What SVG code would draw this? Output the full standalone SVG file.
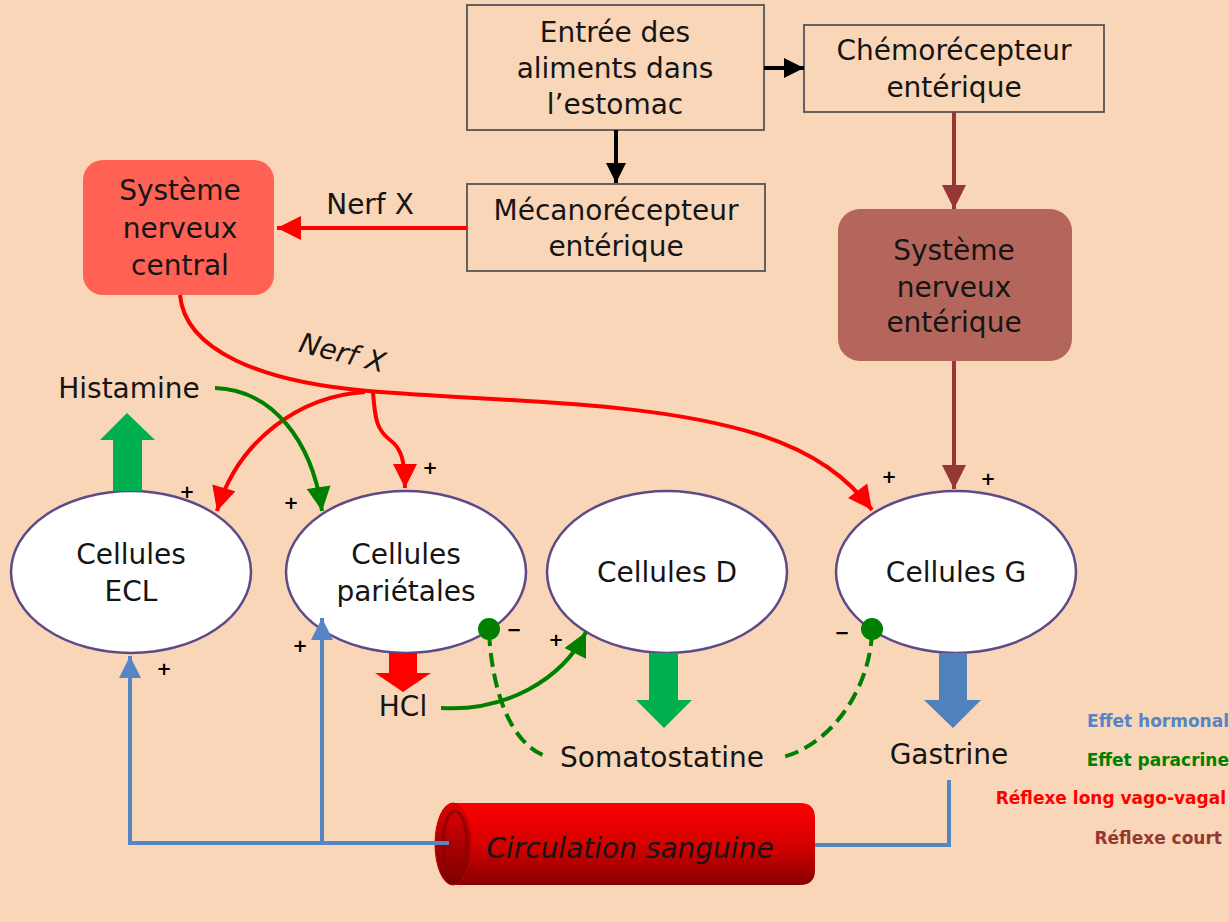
<svg xmlns="http://www.w3.org/2000/svg" width="1229" height="922" viewBox="0 0 1229 922">
<defs>
<style>
.t{font-family:"DejaVu Sans","Liberation Sans",sans-serif;font-size:28px;fill:#151515;text-anchor:middle}
.box{fill:none;stroke:#555;stroke-width:1.8}
.cell{fill:#fff;stroke:#5E4A86;stroke-width:2.5}
.pm{font-family:"DejaVu Sans",sans-serif;font-size:18px;font-weight:bold;fill:#000;text-anchor:middle}
.lg{font-family:"DejaVu Sans",sans-serif;font-size:17px;font-weight:bold;text-anchor:end}
.red{fill:none;stroke:#FF0000;stroke-width:4}
.grn{fill:none;stroke:#008000;stroke-width:4}
.blu{fill:none;stroke:#5585C5;stroke-width:4}
</style>
<marker id="mR" viewBox="0 0 10 10" refX="10" refY="5" markerWidth="25" markerHeight="24" markerUnits="userSpaceOnUse" orient="auto"><path d="M0,0L10,5L0,10z" fill="#FF0000"/></marker>
<marker id="mG" viewBox="0 0 10 10" refX="10" refY="5" markerWidth="25" markerHeight="24" markerUnits="userSpaceOnUse" orient="auto"><path d="M0,0L10,5L0,10z" fill="#008000"/></marker>
<marker id="mB" viewBox="0 0 10 10" refX="10" refY="5" markerWidth="22" markerHeight="24" markerUnits="userSpaceOnUse" orient="auto"><path d="M0,0L10,5L0,10z" fill="#5585C5"/></marker>
<marker id="mK" viewBox="0 0 10 10" refX="10" refY="5" markerWidth="20" markerHeight="22" markerUnits="userSpaceOnUse" orient="auto"><path d="M0,0L10,5L0,10z" fill="#000"/></marker>
<marker id="mM" viewBox="0 0 10 10" refX="10" refY="5" markerWidth="26" markerHeight="24" markerUnits="userSpaceOnUse" orient="auto"><path d="M0,0L10,5L0,10z" fill="#953735"/></marker>
<linearGradient id="cyl" x1="0" y1="0" x2="0" y2="1">
<stop offset="0" stop-color="#FF0000"/><stop offset="0.55" stop-color="#D00000"/><stop offset="1" stop-color="#850000"/>
</linearGradient>
<linearGradient id="cylEnd" x1="0" y1="0" x2="0" y2="1">
<stop offset="0" stop-color="#E00000"/><stop offset="1" stop-color="#7A0000"/>
</linearGradient>
</defs>
<rect width="1229" height="922" fill="#FAD6B8"/>

<g id="entree">
<rect class="box" x="467" y="5" width="297" height="125"/>
<text class="t" x="615" y="42">Entrée des</text>
<text class="t" x="615" y="78">aliments dans</text>
<text class="t" x="615" y="114">l’estomac</text>
</g>
<g id="chemo">
<rect class="box" x="804" y="25" width="300" height="87"/>
<text class="t" x="954" y="60">Chémorécepteur</text>
<text class="t" x="954" y="97">entérique</text>
</g>
<g id="mecano">
<rect class="box" x="467" y="184" width="298" height="87"/>
<text class="t" x="616" y="220">Mécanorécepteur</text>
<text class="t" x="616" y="256">entérique</text>
</g>
<g id="snc">
<rect x="83" y="160" width="191" height="135" rx="20" fill="#FF6155"/>
<text class="t" x="180" y="200">Système</text>
<text class="t" x="180" y="238">nerveux</text>
<text class="t" x="180" y="275">central</text>
</g>
<g id="sne">
<rect x="838" y="209" width="234" height="152" rx="22" fill="#B4665C"/>
<text class="t" x="954" y="260">Système</text>
<text class="t" x="954" y="297">nerveux</text>
<text class="t" x="954" y="332">entérique</text>
</g>

<g id="ecl">
<ellipse class="cell" cx="131" cy="572" rx="120" ry="81"/>
<text class="t" x="131" y="564">Cellules</text>
<text class="t" x="131" y="601">ECL</text>
</g>
<g id="parietales">
<ellipse class="cell" cx="406" cy="572" rx="120" ry="81"/>
<text class="t" x="406" y="564">Cellules</text>
<text class="t" x="406" y="601">pariétales</text>
</g>
<g id="cellD">
<ellipse class="cell" cx="667" cy="572" rx="120" ry="81"/>
<text class="t" x="667" y="582">Cellules D</text>
</g>
<g id="cellG">
<ellipse class="cell" cx="956" cy="572" rx="120" ry="81"/>
<text class="t" x="956" y="582">Cellules G</text>
</g>

<g id="circulation">
<path d="M453,803 H800 Q815,803 815,818 V870 Q815,885 800,885 H453 Z" fill="url(#cyl)"/>
<ellipse cx="453" cy="844" rx="18" ry="41" fill="url(#cylEnd)" stroke="#C00000" stroke-width="1"/>
<ellipse cx="455" cy="844" rx="12" ry="33" fill="none" stroke="#900000" stroke-width="3"/>
<text class="t" x="630" y="858" font-style="italic">Circulation sanguine</text>
</g>

<g id="labels">
<text class="t" x="129" y="398">Histamine</text>
<text class="t" x="403" y="716">HCl</text>
<text class="t" x="662" y="767">Somatostatine</text>
<text class="t" x="949" y="764">Gastrine</text>
<text class="t" x="370" y="214">Nerf X</text>
<text class="t" x="0" y="0" font-style="italic" transform="translate(340,362) rotate(14)">Nerf X</text>
</g>

<g id="connectors">
<line x1="764" y1="68" x2="804" y2="68" stroke="#000" stroke-width="4" marker-end="url(#mK)"/>
<line x1="616" y1="130" x2="616" y2="183" stroke="#000" stroke-width="4" marker-end="url(#mK)"/>
<line x1="954" y1="112" x2="954" y2="209" stroke="#953735" stroke-width="4" marker-end="url(#mM)"/>
<line x1="954" y1="361" x2="954" y2="489" stroke="#953735" stroke-width="4" marker-end="url(#mM)"/>
<line x1="467" y1="228" x2="277" y2="228" class="red" marker-end="url(#mR)"/>
<path class="red" d="M180,295 C185,350 260,382 368,391 C500,402 650,400 760,435 C815,453 848,478 872,510" marker-end="url(#mR)"/>
<path class="red" d="M365,392 C300,396 238,440 217,511" marker-end="url(#mR)"/>
<path class="red" d="M373,392 C375,420 377,430 390,440 C401,448 405,460 405,488" marker-end="url(#mR)"/>
<path class="grn" d="M215,388 C272,390 312,440 322,511" marker-end="url(#mG)"/>
<path class="grn" d="M441,708 C505,712 562,680 586,632" marker-end="url(#mG)"/>
<path d="M489,632 C492,690 510,745 548,757" fill="none" stroke="#008000" stroke-width="4" stroke-dasharray="14,7"/>
<path d="M872,632 C870,690 830,745 783,757" fill="none" stroke="#008000" stroke-width="4" stroke-dasharray="14,7"/>
<circle cx="489" cy="629" r="11" fill="#008000"/>
<circle cx="872" cy="629" r="11" fill="#008000"/>
<path class="blu" d="M449,843 H130 V656" marker-end="url(#mB)"/>
<path class="blu" d="M322,843 V618" marker-end="url(#mB)"/>
<path class="blu" d="M815,845 H949 V780"/>
<polygon points="113,491 113,440 100,440 127,413 155,440 142,440 142,491" fill="#00B050"/>
<polygon points="389,653 417,653 417,673 431,673 403,692 375,673 389,673" fill="#FF0000"/>
<polygon points="649,653 678,653 678,700 692,700 664,728 636,700 649,700" fill="#00B050"/>
<polygon points="939,653 967,653 967,700 981,700 953,728 924,700 939,700" fill="#4F81BD"/>
</g>

<g id="signs">
<text class="pm" x="187" y="498">+</text>
<text class="pm" x="291" y="509">+</text>
<text class="pm" x="430" y="474">+</text>
<text class="pm" x="889" y="483">+</text>
<text class="pm" x="988" y="485">+</text>
<text class="pm" x="164" y="675">+</text>
<text class="pm" x="300" y="652">+</text>
<text class="pm" x="556" y="646">+</text>
<text class="pm" x="514" y="636">−</text>
<text class="pm" x="842" y="639">−</text>
</g>

<g id="legend">
<text class="lg" x="1229" y="727" fill="#5585C5">Effet hormonal</text>
<text class="lg" x="1229" y="766" fill="#008000">Effet paracrine</text>
<text class="lg" x="1226" y="804" fill="#FF0000">Réflexe long vago-vagal</text>
<text class="lg" x="1222" y="844" fill="#953735">Réflexe court</text>
</g>
</svg>
